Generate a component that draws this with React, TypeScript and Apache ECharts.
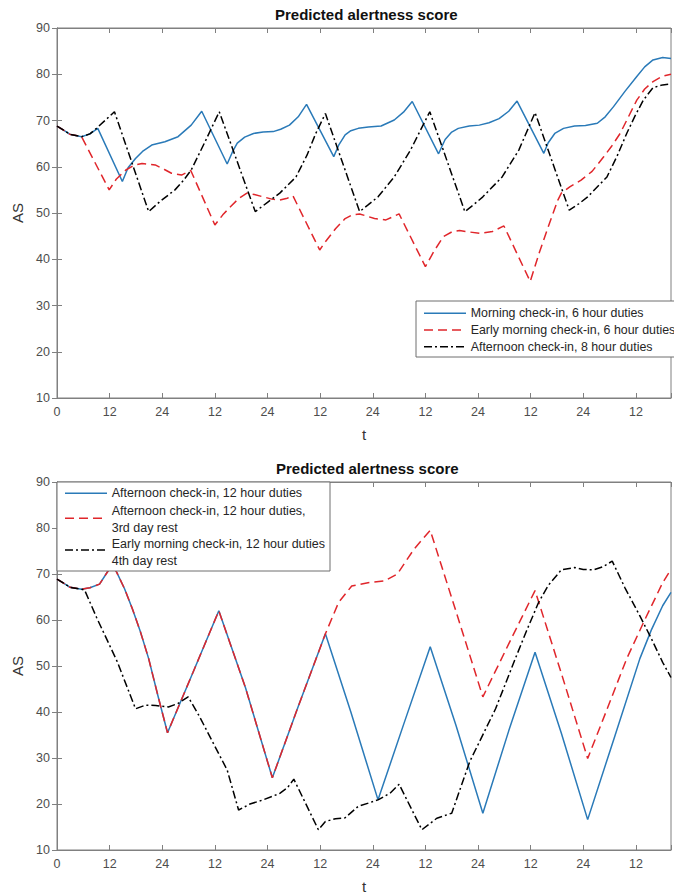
import React, { useEffect, useRef } from 'react';
import * as echarts from 'echarts';

// ---------- axes ----------
const xMax = 140;
const xStep = 12;
const yMin = 10;
const yMax = 90;
const yStep = 10;
const titleText = 'Predicted alertness score';
const xName = 't';
const yName = 'AS';

// ---------- top panel ----------
const topNames = [
  'Morning check-in, 6 hour duties',
  'Early morning check-in, 6 hour duties',
  'Afternoon check-in, 8 hour duties',
];

const morningT = [0, 1.5, 3, 5.6, 7.5, 9.3, 14.9, 16.2, 17.9, 19.5, 21.6, 24.6, 27.6, 30.6, 33,
  38.8, 40, 41.1, 42.8, 44.8, 47, 49.3, 51, 53, 55, 56.9,
  63.1, 64.3, 65.7, 67, 68.7, 71, 73.9, 76.9, 79, 81,
  87, 88.5, 90, 91.5, 94, 96.3, 98.5, 100.8, 103, 104.9,
  111, 112, 113.5, 115.5, 118, 120.5, 123.2, 125, 126.9, 129.5, 132.2, 134, 135.9, 138.1, 140];
const morningAS = [68.8, 67.9, 67.0, 66.5, 67.1, 68.3, 56.8, 59.8, 61.8, 63.3, 64.7, 65.4, 66.5, 69.0, 72.0,
  60.6, 63.2, 65.1, 66.4, 67.2, 67.5, 67.6, 68.1, 69.0, 70.8, 73.5,
  62.2, 64.8, 66.9, 67.8, 68.3, 68.6, 68.8, 70.1, 71.8, 74.1,
  62.8, 65.9, 67.5, 68.3, 68.8, 69.0, 69.5, 70.4, 72.0, 74.2,
  62.9, 65.2, 67.2, 68.3, 68.8, 68.9, 69.4, 70.8, 73.0, 76.3, 79.5, 81.6, 83.1, 83.6, 83.4];

const earlyT = [0, 1.5, 3, 5.6, 11.9, 13.5, 15.7, 17.5, 19.4, 22.4, 24.5, 26.1, 28.4, 30.5,
  36, 37.8, 39.6, 41.5, 43.3, 45, 47, 49, 50.8, 52.5, 53.8,
  59.9, 61.2, 63.5, 65.7, 67.3, 69, 70.7, 72.4, 75, 78,
  84, 86, 88.1, 90, 91.8, 94, 96.3, 99.3, 101.9,
  107.9, 110, 112, 114.2, 115, 117, 119.5, 122, 124.7, 126.5, 128.4, 130.3, 132.2, 134, 135.9, 138.1, 140];
const earlyAS = [68.8, 67.9, 67.0, 66.5, 55.0, 57.3, 59.3, 60.3, 60.7, 60.4, 59.4, 58.6, 58.2, 59.2,
  47.4, 49.6, 51.4, 53.2, 54.3, 54.0, 53.5, 53.0, 52.8, 53.2, 53.7,
  42.0, 43.8, 46.6, 48.8, 49.6, 49.8, 49.3, 48.8, 48.5, 49.8,
  38.4, 41.8, 44.9, 45.9, 46.2, 45.9, 45.6, 46.0, 47.2,
  35.2, 41.5, 47.0, 52.8, 54.3, 55.7, 57.1, 59.0, 62.2, 64.5, 67.2, 70.8, 74.4, 76.8, 78.4, 79.6, 80.0];

const afternoon8T = [0, 1.5, 3, 5.6, 7.5, 9, 13.1,
  20.9, 23.5, 26.9, 28.8, 30.6, 33.6, 37,
  45.2, 48, 50.8, 54.5, 57, 59, 61.2,
  69, 71, 73.2, 76.9, 80.6, 85,
  93, 95, 97.1, 101.5, 105.3, 109,
  116.8, 119, 121, 125.4, 127.8, 129.9, 131.8, 133.7, 135.9, 138.1, 140];
const afternoon8AS = [68.8, 67.9, 67.0, 66.5, 67.1, 68.3, 71.9,
  50.3, 52.5, 55.0, 57.0, 59.3, 65.1, 71.9,
  50.3, 52.3, 54.3, 57.8, 62.5, 67.2, 71.5,
  50.3, 51.8, 53.5, 57.8, 63.6, 71.9,
  50.3, 51.8, 53.5, 57.8, 63.6, 71.7,
  50.6, 52.0, 53.5, 57.8, 62.5, 67.2, 71.0, 74.4, 77.1, 77.7, 77.9];

// ---------- bottom panel ----------
const bottomNames = [
  ['Afternoon check-in, 12 hour duties'],
  ['Afternoon check-in, 12 hour duties,', '3rd day rest'],
  ['Early morning check-in, 12 hour duties', '4th day rest'],
];

const aft12T = [0, 1.5, 3, 5.6, 7.5, 9.7, 11.6, 12.6, 13.6, 15.4, 17.2, 19, 20.9, 23.1, 25.2,
  31, 36.9, 43, 49.1, 55, 61.2, 67, 73.2, 79, 85.1, 91, 97.1, 103, 109, 115, 121,
  127, 132.9, 135.5, 138.1, 140];
const aft12AS = [68.9, 68.0, 67.1, 66.7, 67.0, 67.8, 70.6, 71.8, 70.4, 66.8, 62.4, 57.5, 51.6, 43.2, 35.5,
  48.6, 62.0, 45.2, 25.7, 41.2, 57.0, 40.0, 20.9, 37.2, 54.2, 37.0, 18.0, 35.9, 53.0, 35.4, 16.6,
  34.2, 51.6, 57.8, 63.1, 66.0];

const aft12RestT = [0, 1.5, 3, 5.6, 7.5, 9.7, 11.6, 12.6, 13.6, 15.4, 17.2, 19, 20.9, 23.1, 25.2,
  31, 36.9, 43, 49.1, 55, 61.2, 64.2, 67.2, 70.9, 74.7, 77.6, 81.4, 85.1,
  91, 97.1, 103, 109, 115, 121, 125.5, 129.9, 134, 138.1, 140];
const aft12RestAS = [68.9, 68.0, 67.1, 66.7, 67.0, 67.8, 70.6, 71.8, 70.4, 66.8, 62.4, 57.5, 51.6, 43.2, 35.5,
  48.6, 62.0, 45.2, 25.7, 41.2, 57.0, 63.8, 67.4, 68.1, 68.5, 70.0, 75.4, 79.5,
  61.8, 43.3, 54.8, 66.4, 48.4, 29.9, 40.8, 51.6, 60.0, 68.1, 71.0];

const early12T = [0, 1.5, 3, 5.6, 6.3, 9, 13.8, 17.9, 20.2, 22.5, 25.4, 27.5, 29.9,
  32.5, 35.1, 38.8, 41.4, 44, 47, 50.8, 52.5, 54,
  59.6, 61.2, 63.5, 65.7, 68.7, 71, 73.2, 76, 78,
  83.2, 86.6, 90, 94.1, 100, 104.5, 107, 109.8, 112, 115, 118, 120, 122.4, 124.5, 126.6,
  129.5, 132.9, 135.5, 138.1, 140];
const early12AS = [68.9, 68.0, 67.1, 66.7, 66.5, 60.6, 50.8, 40.7, 41.5, 41.4, 41.1, 41.8, 43.3,
  39.0, 34.2, 27.4, 18.7, 20.0, 20.9, 22.3, 23.5, 25.4,
  14.4, 16.2, 16.8, 17.0, 19.5, 20.2, 20.9, 22.4, 24.3,
  14.4, 16.9, 18.0, 29.2, 40.7, 51.6, 57.5, 63.8, 67.5, 70.9, 71.4, 71.0, 70.9, 71.6, 72.8,
  67.0, 60.9, 56.0, 50.8, 47.5];

// ---------- styles ----------
const FONT = '"Liberation Sans", Arial, Helvetica, sans-serif';
const BLUE = '#2a7ab8';
const RED = '#e0262b';
const BLACK = '#000000';
const AXIS = '#808080';
const DASH = [9, 5];
const DASHDOT = [8, 3, 2, 3];

const zip = (t: number[], v: number[]) => t.map((x, i) => [x, v[i]]);

const grids = [
  { left: 57, top: 28, width: 625, height: 370 },
  { left: 57, top: 482, width: 625, height: 370 },
];

export default function App() {
  const ref = useRef<HTMLDivElement>(null);

  useEffect(() => {
    if (!ref.current) return;
    const chart = echarts.init(ref.current, undefined, { renderer: 'svg' });

    const xLabel = (v: number) => {
      if (v % xStep !== 0) return '';
      if (v === 0) return '0';
      return v % 24 === 0 ? '24' : '12';
    };

    const xAxes: any[] = [];
    const yAxes: any[] = [];
    grids.forEach((_, i) => {
      xAxes.push({
        type: 'value', gridIndex: i, min: 0, max: xMax, interval: xStep, position: 'bottom',
        axisLine: { show: true, lineStyle: { color: AXIS, width: 1 } },
        axisTick: { show: true, inside: true, length: 5, lineStyle: { color: AXIS } },
        axisLabel: { formatter: xLabel, color: '#4d4d4d', fontSize: 12.5, fontFamily: FONT, margin: 7 },
        splitLine: { show: false },
        name: xName, nameLocation: 'middle', nameGap: 29,
        nameTextStyle: { fontSize: 15, color: '#333', fontFamily: FONT },
      });
      xAxes.push({
        type: 'value', gridIndex: i, min: 0, max: xMax, interval: xStep, position: 'top',
        axisLine: { show: true, lineStyle: { color: AXIS, width: 1 } },
        axisTick: { show: true, inside: true, length: 5, lineStyle: { color: AXIS } },
        axisLabel: { show: false },
        splitLine: { show: false },
      });
      yAxes.push({
        type: 'value', gridIndex: i, min: yMin, max: yMax, interval: yStep, position: 'left',
        axisLine: { show: true, lineStyle: { color: AXIS, width: 1 } },
        axisTick: { show: true, inside: true, length: 5, lineStyle: { color: AXIS } },
        axisLabel: { color: '#4d4d4d', fontSize: 12.5, fontFamily: FONT, margin: 7 },
        splitLine: { show: false },
        name: yName, nameLocation: 'middle', nameGap: 24, nameRotate: 90,
        nameTextStyle: { fontSize: 15, color: '#333', fontFamily: FONT },
      });
      yAxes.push({
        type: 'value', gridIndex: i, min: yMin, max: yMax, interval: yStep, position: 'right',
        axisLine: { show: true, lineStyle: { color: AXIS, width: 1 } },
        axisTick: { show: true, inside: true, length: 5, lineStyle: { color: AXIS } },
        axisLabel: { show: false },
        splitLine: { show: false },
      });
    });

    const mk = (name: string, data: number[][], panel: number, color: string, type: any) => ({
      name, type: 'line', data, xAxisIndex: panel * 2, yAxisIndex: panel * 2,
      symbol: 'none', silent: true,
      lineStyle: { color, width: 1.5, type },
      z: 3,
    });

    const series = [
      mk(topNames[0], zip(morningT, morningAS), 0, BLUE, 'solid'),
      mk(topNames[1], zip(earlyT, earlyAS), 0, RED, DASH),
      mk(topNames[2], zip(afternoon8T, afternoon8AS), 0, BLACK, DASHDOT),
      mk(bottomNames[0].join(' '), zip(aft12T, aft12AS), 1, BLUE, 'solid'),
      mk(bottomNames[1].join(' '), zip(aft12RestT, aft12RestAS), 1, RED, DASH),
      mk(bottomNames[2].join(' '), zip(early12T, early12AS), 1, BLACK, DASHDOT),
    ];

    const styles = [
      { color: BLUE, dash: null as any },
      { color: RED, dash: DASH },
      { color: BLACK, dash: DASHDOT },
    ];

    const graphic: any[] = [];
    // top legend
    graphic.push({ type: 'rect', z: 100, shape: { x: 416, y: 301, width: 266, height: 56 },
      style: { fill: '#fff', stroke: '#6e6e6e', lineWidth: 1 } });
    topNames.forEach((n, i) => {
      const y = 313.3 + i * 16.7;
      graphic.push({ type: 'line', z: 101, shape: { x1: 424, y1: y, x2: 466, y2: y },
        style: { stroke: styles[i].color, lineWidth: 1.5, lineDash: styles[i].dash } });
      graphic.push({ type: 'text', z: 101, x: 470.7, y,
        style: { text: n, fontSize: 12.4, fontFamily: FONT, fill: '#262626', align: 'left', verticalAlign: 'middle' } });
    });
    // bottom legend
    graphic.push({ type: 'rect', z: 100, shape: { x: 57, y: 482, width: 273, height: 89 },
      style: { fill: '#fff', stroke: '#6e6e6e', lineWidth: 1 } });
    const textRows = [[493.3], [510.5, 527.5], [544, 560.5]];
    const lineRows = [493.3, 518.3, 550];
    bottomNames.forEach((lines, i) => {
      const y = lineRows[i];
      graphic.push({ type: 'line', z: 101, shape: { x1: 65, y1: y, x2: 107, y2: y },
        style: { stroke: styles[i].color, lineWidth: 1.5, lineDash: styles[i].dash } });
      lines.forEach((ln, j) => {
        graphic.push({ type: 'text', z: 101, x: 111.7, y: textRows[i][j],
          style: { text: ln, fontSize: 12.5, fontFamily: FONT, fill: '#262626', align: 'left', verticalAlign: 'middle' } });
      });
    });

    chart.setOption({
      animation: false,
      backgroundColor: '#fff',
      title: [
        { text: titleText, left: 275, top: 7, padding: 0,
          textStyle: { fontSize: 15, fontWeight: 'bold', color: '#111', fontFamily: FONT } },
        { text: titleText, left: 276, top: 461, padding: 0,
          textStyle: { fontSize: 15, fontWeight: 'bold', color: '#111', fontFamily: FONT } },
      ],
      grid: grids.map(g => ({ ...g, show: true, borderColor: AXIS, borderWidth: 1, backgroundColor: 'transparent' })),
      xAxis: xAxes,
      yAxis: yAxes,
      series,
      graphic,
    });

    return () => chart.dispose();
  }, []);

  return (
    <div
      ref={ref}
      style={{ position: 'absolute', left: 0, top: 0, width: 674, height: 895, background: '#fff' }}
    />
  );
}
